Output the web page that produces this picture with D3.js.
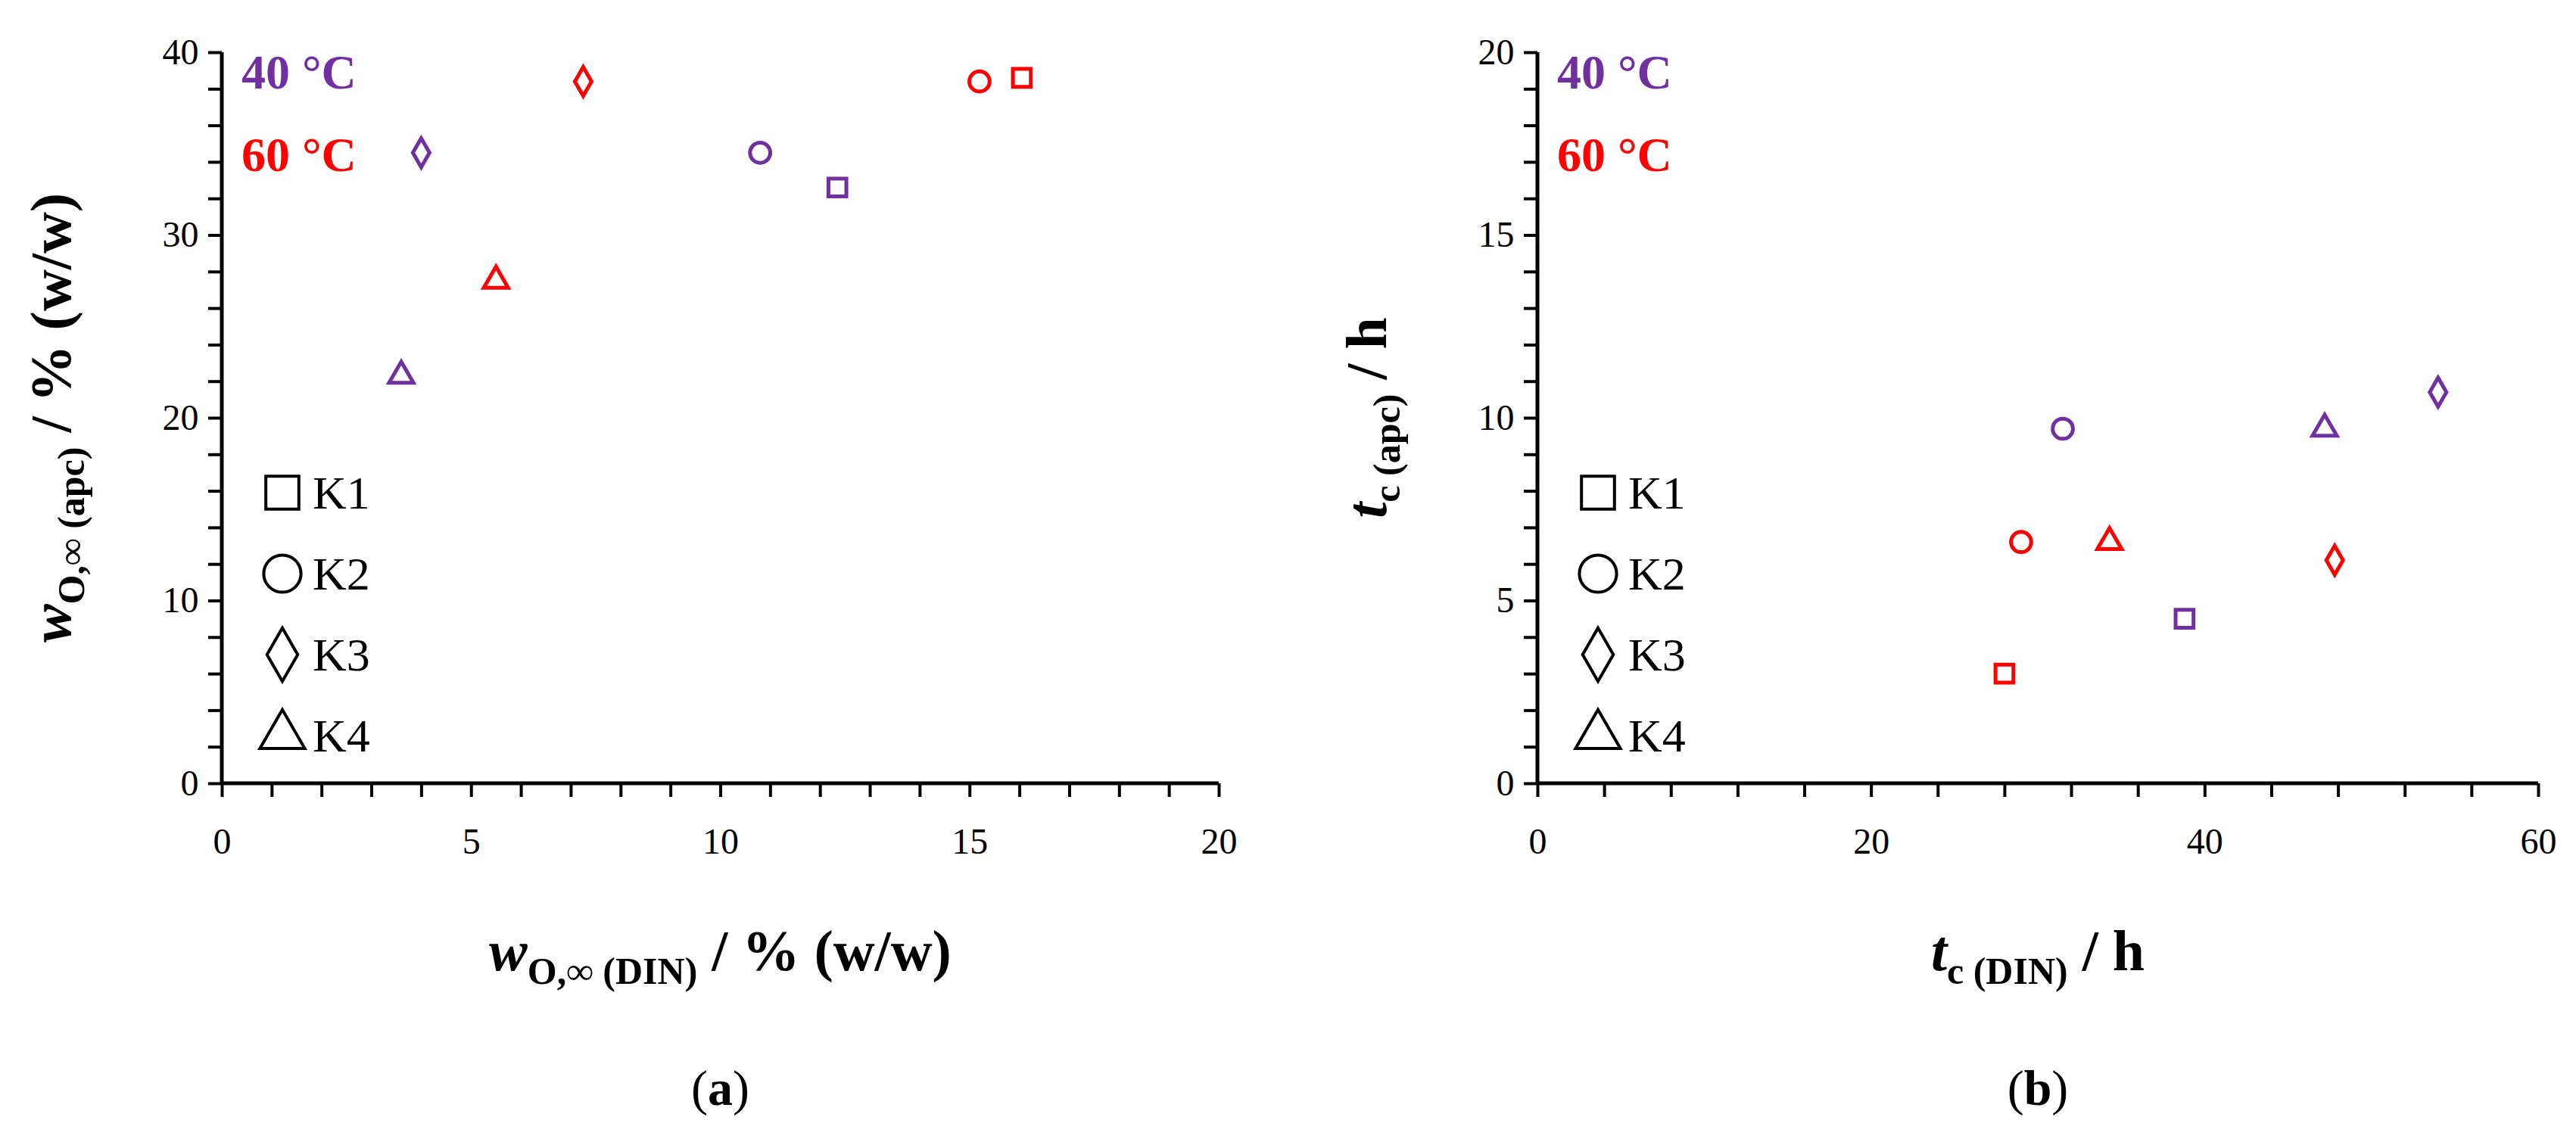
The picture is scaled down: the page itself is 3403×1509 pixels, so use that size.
<!DOCTYPE html>
<html>
<head>
  <style>body{margin:0;background:#fff}</style>
</head>
<body>
  <svg id="main" width="3403" height="1509"></svg>
  <script src="https://cdn.jsdelivr.net/npm/d3@7.0.1/dist/d3.min.js"></script>
  <script>
    const shapes = ['K1', 'K2', 'K3', 'K4']
    const temps = ['40 °C', '60 °C']
    const colors = ['#7030A0', '#FF0000']
    // panel a: [x, y] per sample, for 40 °C then 60 °C
    const aX40 = [12.35, 10.8, 4.0, 3.6]
    const aY40 = [32.6, 34.5, 34.5, 22.3]
    const aX60 = [16.05, 15.2, 7.25, 5.5]
    const aY60 = [38.6, 38.4, 38.4, 27.5]
    // panel b
    const bX40 = [38.8, 31.5, 54.0, 47.2]
    const bY40 = [4.5, 9.7, 10.7, 9.7]
    const bX60 = [28.0, 29.0, 47.8, 34.3]
    const bY60 = [3.0, 6.6, 6.1, 6.6]

    const svg = d3.select('#main')
    const font = 'Liberation Serif, serif'
    const symbols = [d3.symbolSquare, d3.symbolCircle, d3.symbolDiamond, d3.symbolTriangle]
    const symbolSizes = [1.0, 1.0, 0.75, 0.8]

    function points(xs, ys, t) {
      return xs.map((x, i) => ({ x, y: ys[i], k: i, t }))
    }

    function panel(opt) {
      const x = d3.scaleLinear().domain(opt.xd).range([opt.x0, opt.x1])
      const y = d3.scaleLinear().domain(opt.yd).range([1035, 69])
      const g = svg.append('g')

      const xMinor = d3.range(opt.xd[0], opt.xd[1] + 0.001, opt.xMinor)
      const yMinor = d3.range(opt.yd[0], opt.yd[1] + 0.001, opt.yMinor)
      const xAxis = d3.axisBottom(x).tickValues(xMinor).tickSize(18)
        .tickFormat(d => Math.abs(d % opt.xMajor) < 1e-6 ? d : '')
      const yAxis = d3.axisLeft(y).tickValues(yMinor).tickSize(18)
        .tickFormat(d => Math.abs(d % opt.yMajor) < 1e-6 ? d : '')
      const gx = g.append('g').attr('transform', `translate(0,${y(0)})`).call(xAxis)
      const gy = g.append('g').attr('transform', `translate(${x(0)},0)`).call(yAxis)
      for (const a of [gx, gy]) {
        a.select('.domain').attr('stroke-width', 5).attr('d', null)
        a.selectAll('.tick line').attr('stroke-width', 4)
        a.selectAll('.tick text').attr('font-family', font).attr('font-size', 48).attr('fill', '#000')
      }
      gx.select('.domain').remove()
      gy.select('.domain').remove()
      g.append('line').attr('x1', x(0)).attr('x2', x(opt.xd[1])).attr('y1', y(0)).attr('y2', y(0))
        .attr('stroke', '#000').attr('stroke-width', 5)
      g.append('line').attr('x1', x(0)).attr('x2', x(0)).attr('y1', y(0)).attr('y2', y(opt.yd[1]))
        .attr('stroke', '#000').attr('stroke-width', 5)
      gx.selectAll('.tick text').attr('dy', '1.5em')
      gy.selectAll('.tick text').attr('dx', '-0.2em')

      const data = points(opt.x40, opt.y40, 0).concat(points(opt.x60, opt.y60, 1))
      g.selectAll('.pt').data(data).join('path').attr('class', 'pt')
        .attr('transform', d => `translate(${x(d.x)},${y(d.y)})`)
        .attr('d', d => d3.symbol(symbols[d.k], 560 * symbolSizes[d.k])())
        .attr('fill', 'none').attr('stroke', d => colors[d.t]).attr('stroke-width', 5)

      temps.forEach((t, i) => {
        g.append('text').text(t).attr('x', x(0) + 26).attr('y', 117 + i * 109)
          .attr('font-family', font).attr('font-weight', 'bold').attr('font-size', 64)
          .attr('fill', colors[i])
      })
      shapes.forEach((s, i) => {
        const cy = 651 + i * 107
        g.append('path').attr('transform', `translate(${x(0) + 80},${cy})`)
          .attr('d', d3.symbol(symbols[i], 1900 * symbolSizes[i])())
          .attr('fill', 'none').attr('stroke', '#000').attr('stroke-width', 4)
        g.append('text').text(s).attr('x', x(0) + 120).attr('y', cy + 21)
          .attr('font-family', font).attr('font-size', 62)
      })

      const tx = g.append('text').attr('x', (opt.x0 + opt.x1) / 2).attr('y', 1282)
        .attr('text-anchor', 'middle').attr('font-family', font).attr('font-weight', 'bold').attr('font-size', 76)
      opt.title(tx)
      const ty = g.append('text').attr('transform', `translate(${opt.x0 - 200},${(69 + 1035) / 2}) rotate(-90)`)
        .attr('text-anchor', 'middle').attr('font-family', font).attr('font-weight', 'bold').attr('font-size', 76)
      opt.ytitle(ty)
      g.append('text').attr('x', (opt.x0 + opt.x1) / 2).attr('y', 1460).attr('text-anchor', 'middle')
        .attr('font-family', font).attr('font-size', 66)
        .call(t => { t.append('tspan').text('('); t.append('tspan').attr('font-weight', 'bold').text(opt.label); t.append('tspan').text(')') })
    }

    function sym(t, main, sub, rest) {
      t.append('tspan').attr('font-style', 'italic').text(main)
      t.append('tspan').attr('font-size', 50).attr('dy', 18).text(sub)
      t.append('tspan').attr('dy', -18).text(rest)
    }

    panel({
      x0: 293, x1: 1610, xd: [0, 20], yd: [0, 40], xMinor: 1, xMajor: 5, yMinor: 2, yMajor: 10,
      x40: aX40, y40: aY40, x60: aX60, y60: aY60, label: 'a',
      title: t => sym(t, 'w', 'O,∞ (DIN)', ' / % (w/w)'),
      ytitle: t => sym(t, 'w', 'O,∞ (apc)', ' / % (w/w)')
    })
    panel({
      x0: 2031, x1: 3353, xd: [0, 60], yd: [0, 20], xMinor: 4, xMajor: 20, yMinor: 1, yMajor: 5,
      x40: bX40, y40: bY40, x60: bX60, y60: bY60, label: 'b',
      title: t => sym(t, 't', 'c (DIN)', ' / h'),
      ytitle: t => sym(t, 't', 'c (apc)', ' / h')
    })
  </script>
</body>
</html>
